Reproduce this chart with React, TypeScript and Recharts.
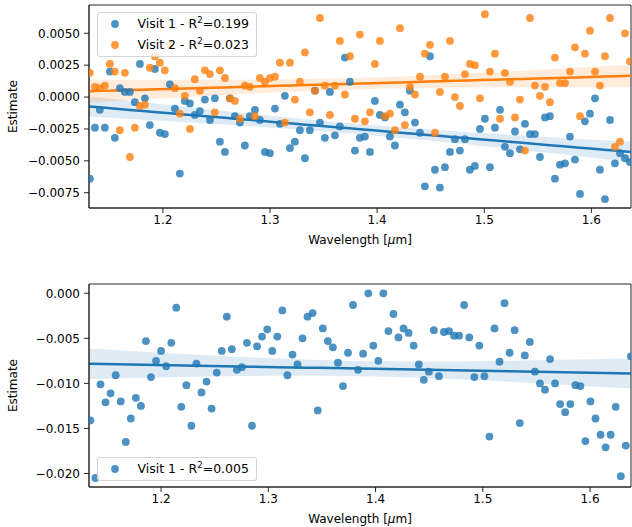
import {
  ComposedChart,
  Scatter,
  Line,
  Area,
  XAxis,
  YAxis,
  ReferenceArea,
} from "recharts";

// wavelength bins (um) and per-bin estimates
const wavelengthTop = [
  1.1318, 1.1365, 1.1411, 1.1458, 1.1505, 1.1551, 1.1598, 1.1645, 1.1692, 1.1738,
  1.1785, 1.1832, 1.1878, 1.1925, 1.1972, 1.2018, 1.2065, 1.2112, 1.2158, 1.2205,
  1.2252, 1.2298, 1.2345, 1.2392, 1.2439, 1.2485, 1.2532, 1.2579, 1.2625, 1.2672,
  1.2719, 1.2765, 1.2812, 1.2859, 1.2905, 1.2952, 1.2999, 1.3046, 1.3092, 1.3139,
  1.3186, 1.3232, 1.3279, 1.3326, 1.3372, 1.3419, 1.3466, 1.3512, 1.3559, 1.3606,
  1.3652, 1.3699, 1.3746, 1.3793, 1.3839, 1.3886, 1.3933, 1.3979, 1.4026, 1.4073,
  1.4119, 1.4166, 1.4213, 1.4259, 1.4306, 1.4353, 1.44, 1.4446, 1.4493, 1.454,
  1.4586, 1.4633, 1.468, 1.4726, 1.4773, 1.482, 1.4866, 1.4913, 1.496, 1.5006,
  1.5053, 1.51, 1.5147, 1.5193, 1.524, 1.5287, 1.5333, 1.538, 1.5427, 1.5473,
  1.552, 1.5567, 1.5613, 1.566, 1.5707, 1.5754, 1.58, 1.5847, 1.5894, 1.594,
  1.5987, 1.6034, 1.608, 1.6127, 1.6174, 1.622, 1.6267, 1.6314, 1.636,
];

const visit1Top = [
  -0.0064, -0.0024, -0.001, -0.0024, 0.002, -0.0032, 0.0007, 0.0004, 0.0004, -0.0004,
  0.0026, -0.0001, -0.0022, 0.0022, -0.0028, -0.0029, 0.001, -0.0009, -0.006, -0.0003,
  -0.0005, -0.0014, -0.0011, -0.0002, -0.0018, -0.0001, -0.0035, -0.0043, -0.0001, -0.0015,
  -0.002, -0.0038, -0.0015, -0.001, -0.0018, -0.0043, -0.0044, -0.0009, -0.0021, 0.0001,
  -0.004, -0.0035, -0.0026, -0.0048, -0.0026, 0.0005, -0.002, -0.0032, 0.0004, -0.003,
  -0.0023, 0.0031, 0.0012, -0.0042, -0.0032, -0.0031, -0.0043, -0.0003, -0.0014, -0.0016,
  -0.0031, -0.0038, -0.0006, -0.0012, 0.0005, -0.002, -0.0028, -0.007, 0.0032, -0.0057,
  -0.0071, -0.0055, -0.0043, -0.0033, -0.0042, -0.0033, -0.0057, -0.0054, -0.0025, -0.0017,
  -0.0055, -0.0024, -0.001, -0.0039, -0.0044, -0.0027, -0.0041, -0.0021, -0.0029, -0.0029,
  -0.0047, -0.0016, -0.0015, -0.0064, -0.0053, -0.0052, -0.0031, -0.0049, -0.0076, -0.0019,
  -0.0013, -0.0001, -0.0057, -0.008, -0.0018, -0.0052, -0.0044, -0.0048, -0.0051,
];

const visit2Top = [
  0.0019, 0.0008, 0.0007, 0.0009, 0.0026, 0.002, -0.0026, 0.0019, -0.0047, -0.0024,
  -0.0007, -0.0006, 0.0023, 0.0032, 0.0027, 0.0021, 0.0041, 0.0007, -0.0013, 0.0001,
  -0.0025, 0.0014, 0.0005, 0.0021, 0.0018, -0.0012, 0.0021, 0.0015, -0.0001, -0.0003,
  -0.0017, 0.0009, 0.0008, -0.0015, 0.0015, 0.0012, 0.0015, 0.0016, 0.0027, -0.002,
  0.0027, -0.0002, 0.0012, 0.0035, -0.0012, 0.0005, 0.0062, 0.0009, -0.0014, 0.0009,
  0.0044, 0.0002, 0.0032, -0.0017, 0.0049, -0.0019, -0.0012, 0.0026, 0.0044, -0.0015,
  -0.0013, -0.0026, 0.0054, -0.0022, 0.0008, 0.0002, 0.0016, 0.0034, 0.0041, -0.0028,
  0.0004, 0.0016, 0.0044, 0.0, -0.0007, 0.0018, 0.0026, 0.0025, -0.0001, 0.0065,
  0.002, 0.0034, -0.0017, 0.0019, 0.0012, -0.0016, -0.0002, -0.0042, 0.0062, 0.0009,
  0.0001, 0.0008, -0.0004, 0.0031, 0.0011, 0.0011, 0.002, 0.0039, -0.0015, 0.0034,
  0.0052, 0.002, 0.0009, 0.0032, 0.0062, -0.0039, -0.0035, 0.005, 0.0028,
];

const wavelengthBottom = [
  1.1341, 1.1388, 1.1435, 1.1482, 1.1529, 1.1577, 1.1624, 1.1671, 1.1718, 1.1765,
  1.1812, 1.1859, 1.1906, 1.1953, 1.2, 1.2048, 1.2095, 1.2142, 1.2189, 1.2236,
  1.2283, 1.233, 1.2377, 1.2424, 1.2471, 1.2519, 1.2566, 1.2613, 1.266, 1.2707,
  1.2754, 1.2801, 1.2848, 1.2895, 1.2942, 1.299, 1.3037, 1.3084, 1.3131, 1.3178,
  1.3225, 1.3272, 1.3319, 1.3366, 1.3413, 1.3461, 1.3508, 1.3555, 1.3602, 1.3649,
  1.3696, 1.3743, 1.379, 1.3837, 1.3884, 1.3932, 1.3979, 1.4026, 1.4073, 1.412,
  1.4167, 1.4214, 1.4261, 1.4308, 1.4355, 1.4403, 1.445, 1.4497, 1.4544, 1.4591,
  1.4638, 1.4685, 1.4732, 1.4779, 1.4826, 1.4874, 1.4921, 1.4968, 1.5015, 1.5062,
  1.5109, 1.5156, 1.5203, 1.525, 1.5297, 1.5345, 1.5392, 1.5439, 1.5486, 1.5533,
  1.558, 1.5627, 1.5674, 1.5721, 1.5768, 1.5816, 1.5863, 1.591, 1.5957, 1.6004,
  1.6051, 1.6098, 1.6145, 1.6192, 1.6239, 1.6287, 1.6334, 1.6381,
];

const visit1Bottom = [
  -0.0141, -0.0205, -0.0101, -0.0121, -0.0111, -0.0091, -0.012, -0.0165, -0.0139, -0.0116,
  -0.0125, -0.0053, -0.0093, -0.0075, -0.0064, -0.0081, -0.0055, -0.0016, -0.0126, -0.0102,
  -0.0147, -0.0078, -0.011, -0.0098, -0.0128, -0.0088, -0.0064, -0.0026, -0.0062, -0.0085,
  -0.0082, -0.0055, -0.0147, -0.0059, -0.0048, -0.004, -0.0064, -0.0048, -0.0019, -0.0091,
  -0.0068, -0.0079, -0.005, -0.0026, -0.0022, -0.013, -0.0039, -0.0053, -0.006, -0.0077,
  -0.0103, -0.0066, -0.0013, -0.0085, -0.0067, 0.0, -0.0058, -0.0075, 0.0, -0.0042,
  -0.0023, -0.0049, -0.0039, -0.0044, -0.0058, -0.0079, -0.0096, -0.0087, -0.0041, -0.0092,
  -0.0043, -0.0042, -0.0047, -0.0047, -0.0013, -0.0049, -0.0093, -0.0058, -0.0092, -0.0159,
  -0.0039, -0.0076, -0.0011, -0.0066, -0.0041, -0.0144, -0.0069, -0.0054, -0.0087, -0.01,
  -0.0107, -0.0073, -0.01, -0.0123, -0.0132, -0.0123, -0.0102, -0.0103, -0.0164, -0.012,
  -0.0139, -0.0157, -0.0171, -0.0157, -0.0126, -0.0203, -0.0169, -0.007,
];

const xTicks = [1.2, 1.3, 1.4, 1.5, 1.6];
const yTicksTop = [-0.0075, -0.005, -0.0025, 0, 0.0025, 0.005];
const yTicksBottom = [-0.02, -0.015, -0.01, -0.005, 0];

const xDomainTop: [number, number] = [1.131, 1.637];
const xDomainBottom: [number, number] = [1.1328, 1.6382];
const yDomainTop: [number, number] = [-0.0087, 0.00722];
const yDomainBottom: [number, number] = [-0.0215, 0.00103];

const BLUE = "#1f77b4";
const ORANGE = "#ff7f0e";
const FONT = "DejaVu Sans";
const DOT_R = 3.9;

// least squares fit with a 95% confidence band sampled over the x range
function regression(xs: number[], ys: number[], [lo, hi]: [number, number]) {
  const n = xs.length;
  const mx = xs.reduce((s, v) => s + v, 0) / n;
  const my = ys.reduce((s, v) => s + v, 0) / n;
  let sxx = 0;
  let sxy = 0;
  xs.forEach((x, i) => {
    sxx += (x - mx) ** 2;
    sxy += (x - mx) * (ys[i] - my);
  });
  const slope = sxy / sxx;
  const icpt = my - slope * mx;
  const sse = xs.reduce((s, x, i) => s + (ys[i] - icpt - slope * x) ** 2, 0);
  const se = Math.sqrt(sse / (n - 2));
  const t = 1.983;
  const out: { x: number; fit: number; band: [number, number] }[] = [];
  for (let k = 0; k <= 40; k++) {
    const x = lo + ((hi - lo) * k) / 40;
    const y = icpt + slope * x;
    const h = t * se * Math.sqrt(1 / n + (x - mx) ** 2 / sxx);
    out.push({ x, fit: y, band: [y - h, y + h] });
  }
  return out;
}

const toPoints = (xs: number[], ys: number[]) => xs.map((x, i) => ({ x, y: ys[i] }));

const dot = (color: string) => (props: any) =>
  <circle cx={props.cx} cy={props.cy} r={DOT_R} fill={color} fillOpacity={0.8} />;

const minus = (s: string) => s.replace("-", "\u2212");

const yLabel = (props: any) => {
  const { x, y, height } = props.viewBox;
  const cx = x + 17;
  const cy = y + height / 2;
  return (
    <text x={cx} y={cy} transform={`rotate(-90 ${cx} ${cy})`} textAnchor="middle" fontSize={12} fill="#000" fontFamily={FONT}>
      Estimate
    </text>
  );
};

const xLabel = (props: any) => {
  const { x, y, width } = props.viewBox;
  return (
    <text x={x + width / 2} y={y + 36} textAnchor="middle" fontSize={12} fill="#000" fontFamily={FONT}>
      Wavelength [<tspan fontStyle="italic">μ</tspan>m]
    </text>
  );
};

function LegendBox({ top, items }: { top: number; items: { color: string; label: string; r2: string }[] }) {
  return (
    <div
      style={{
        position: "absolute",
        left: 96.5,
        top,
        width: 160,
        height: items.length * 21 + 3,
        boxSizing: "border-box",
        border: "1px solid rgba(204,204,204,0.8)",
        borderRadius: 3,
        background: "rgba(255,255,255,0.8)",
        fontFamily: FONT,
        fontSize: 12.5,
        color: "#000",
      }}
    >
      {items.map((it, i) => (
        <div key={it.label} style={{ position: "absolute", left: 0, top: 1.5 + i * 21, height: 20, width: 158 }}>
          <svg width={10} height={10} style={{ position: "absolute", left: 12.5, top: 5 }}>
            <circle cx={5} cy={5} r={DOT_R} fill={it.color} fillOpacity={0.8} />
          </svg>
          <span style={{ position: "absolute", left: 40, top: 1, lineHeight: "18px", whiteSpace: "nowrap" }}>
            {it.label} - R<span style={{ fontSize: 8.5, position: "relative", top: -5 }}>2</span>={it.r2}
          </span>
        </div>
      ))}
    </div>
  );
}

const fitTop1 = regression(wavelengthTop, visit1Top, xDomainTop);
const fitTop2 = regression(wavelengthTop, visit2Top, xDomainTop);
const fitBottom = regression(wavelengthBottom, visit1Bottom, xDomainBottom);

const axisStroke = { stroke: "#262626" };
const tickStyle = { fontSize: 12, fill: "#000", fontFamily: FONT };

export default function App() {
  return (
    <div style={{ position: "absolute", left: 0, top: 0, width: 632, height: 527, background: "#fff", fontFamily: FONT }}>
      <ComposedChart width={632} height={252} margin={{ top: 5, right: 1, bottom: 0, left: 0 }}>
        <XAxis
          type="number"
          dataKey="x"
          domain={xDomainTop}
          allowDataOverflow
          ticks={xTicks}
          tickFormatter={(v: number) => v.toFixed(1)}
          tick={tickStyle}
          tickSize={5}
          tickMargin={2}
          axisLine={axisStroke}
          tickLine={axisStroke}
          height={44}
          label={{ content: xLabel }}
        />
        <YAxis
          type="number"
          domain={yDomainTop}
          allowDataOverflow
          ticks={yTicksTop}
          tickFormatter={(v: number) => minus(v.toFixed(4))}
          tick={tickStyle}
          tickSize={5}
          tickMargin={4}
          axisLine={axisStroke}
          tickLine={axisStroke}
          width={89}
          label={{ content: yLabel }}
        />
        <Scatter data={toPoints(wavelengthTop, visit1Top)} dataKey="y" shape={dot(BLUE)} isAnimationActive={false} />
        <Area data={fitTop1} dataKey="band" type="linear" stroke="none" fill={BLUE} fillOpacity={0.15} isAnimationActive={false} />
        <Line data={fitTop1} dataKey="fit" type="linear" stroke={BLUE} strokeWidth={2.5} dot={false} isAnimationActive={false} />
        <Scatter data={toPoints(wavelengthTop, visit2Top)} dataKey="y" shape={dot(ORANGE)} isAnimationActive={false} />
        <Area data={fitTop2} dataKey="band" type="linear" stroke="none" fill={ORANGE} fillOpacity={0.15} isAnimationActive={false} />
        <Line data={fitTop2} dataKey="fit" type="linear" stroke={ORANGE} strokeWidth={2.5} dot={false} isAnimationActive={false} />
        <ReferenceArea
          x1={xDomainTop[0]}
          x2={xDomainTop[1]}
          y1={yDomainTop[0]}
          y2={yDomainTop[1]}
          fill="none"
          stroke="#262626"
          strokeWidth={1}
        />
      </ComposedChart>

      <div style={{ position: "absolute", left: 0, top: 279 }}>
        <ComposedChart width={632} height={248} margin={{ top: 5, right: 1, bottom: 0, left: 0 }}>
          <XAxis
            type="number"
            dataKey="x"
            domain={xDomainBottom}
            allowDataOverflow
            ticks={xTicks}
            tickFormatter={(v: number) => v.toFixed(1)}
            tick={tickStyle}
            tickSize={5}
            tickMargin={2}
            axisLine={axisStroke}
            tickLine={axisStroke}
            height={40}
            label={{ content: xLabel }}
          />
          <YAxis
            type="number"
            domain={yDomainBottom}
            allowDataOverflow
            ticks={yTicksBottom}
            tickFormatter={(v: number) => minus(v.toFixed(3))}
            tick={tickStyle}
            tickSize={5}
            tickMargin={4}
            axisLine={axisStroke}
            tickLine={axisStroke}
            width={89}
            label={{ content: yLabel }}
          />
          <Scatter data={toPoints(wavelengthBottom, visit1Bottom)} dataKey="y" shape={dot(BLUE)} isAnimationActive={false} />
          <Area data={fitBottom} dataKey="band" type="linear" stroke="none" fill={BLUE} fillOpacity={0.15} isAnimationActive={false} />
          <Line data={fitBottom} dataKey="fit" type="linear" stroke={BLUE} strokeWidth={2.5} dot={false} isAnimationActive={false} />
          <ReferenceArea
            x1={xDomainBottom[0]}
            x2={xDomainBottom[1]}
            y1={yDomainBottom[0]}
            y2={yDomainBottom[1]}
            fill="none"
            stroke="#262626"
            strokeWidth={1}
          />
        </ComposedChart>
      </div>

      <LegendBox
        top={11.5}
        items={[
          { color: BLUE, label: "Visit 1", r2: "0.199" },
          { color: ORANGE, label: "Visit 2", r2: "0.023" },
        ]}
      />
      <LegendBox top={456.5} items={[{ color: BLUE, label: "Visit 1", r2: "0.005" }]} />
    </div>
  );
}
